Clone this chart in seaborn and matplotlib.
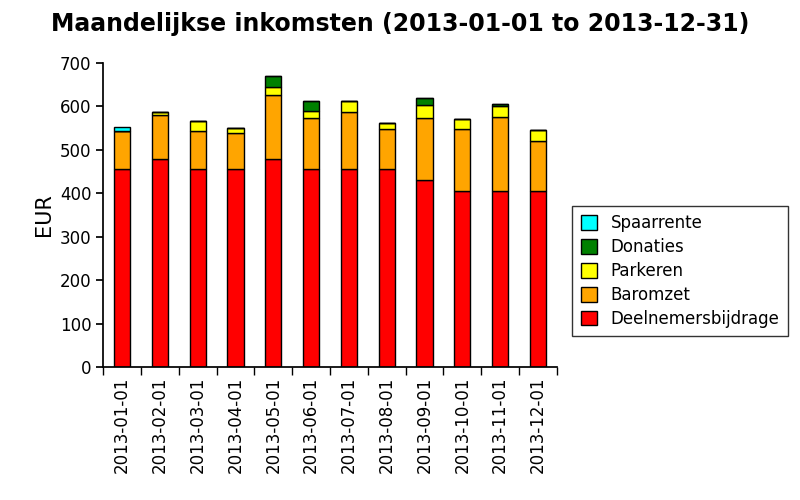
import numpy as np
import matplotlib
matplotlib.use("Agg")
import matplotlib.pyplot as plt
import seaborn as sns

months = ["2013-01-01", "2013-02-01", "2013-03-01", "2013-04-01", "2013-05-01", "2013-06-01",
          "2013-07-01", "2013-08-01", "2013-09-01", "2013-10-01", "2013-11-01", "2013-12-01"]
deelnemersbijdrage = [455, 478, 455, 455, 478, 455, 455, 455, 430, 405, 405, 405]
baromzet = [88, 102, 88, 83, 148, 118, 132, 93, 143, 143, 170, 115]
parkeren = [0, 7, 23, 12, 19, 16, 25, 14, 30, 23, 25, 25]
donaties = [0, 0, 0, 0, 26, 23, 0, 0, 16, 0, 5, 0]
spaarrente = [9, 0, 0, 0, 0, 0, 0, 0, 0, 0, 0, 0]

series = [("Deelnemersbijdrage", deelnemersbijdrage, "#ff0000"),
          ("Baromzet", baromzet, "#ffa500"),
          ("Parkeren", parkeren, "#ffff00"),
          ("Donaties", donaties, "#008000"),
          ("Spaarrente", spaarrente, "#00ffff")]

sns.set_theme(style="white", rc={"text.color": "black", "axes.labelcolor": "black",
                                 "xtick.color": "black", "ytick.color": "black"})
plt.rcParams["font.family"] = "DejaVu Sans"

fig = plt.figure(figsize=(8, 5), dpi=100)
ax = fig.add_axes([0.129, 0.266, 0.567, 0.608])

x = np.arange(len(months))
bottom = np.zeros(len(months))
for name, vals, color in series:
    ax.bar(x, vals, bottom=bottom, width=0.43, color=color,
           edgecolor="black", linewidth=1, label=name)
    bottom += np.array(vals)

ax.set_xlim(-0.5, len(months) - 0.5)
ax.set_ylim(0, 700)
ax.set_xticks(x)
ax.set_xticklabels(months, rotation=90, fontsize=12)
ax.set_xticks(np.arange(-0.5, len(months)), minor=True)
ax.tick_params(axis="x", which="major", length=0, pad=7)
ax.tick_params(axis="x", which="minor", length=6, bottom=True)
ax.set_yticks(range(0, 701, 100))
ax.tick_params(axis="y", labelsize=12, length=5, left=True)
for s in ["top", "right"]:
    ax.spines[s].set_visible(False)
for s in ["left", "bottom"]:
    ax.spines[s].set_color("black")
ax.set_ylabel("EUR", fontsize=15)
fig.suptitle("Maandelijkse inkomsten (2013-01-01 to 2013-12-31)", fontsize=17,
             weight="bold", x=0.5, y=0.975, color="black")

h, l = ax.get_legend_handles_labels()
leg = fig.legend(h[::-1], l[::-1], loc="center left", bbox_to_anchor=(0.705, 0.458),
                 fontsize=12, frameon=True, fancybox=False, handlelength=1, handleheight=1,
                 borderpad=0.5, labelspacing=0.35)
leg.get_frame().set_edgecolor("black")

fig.savefig("out.png", dpi=100)
